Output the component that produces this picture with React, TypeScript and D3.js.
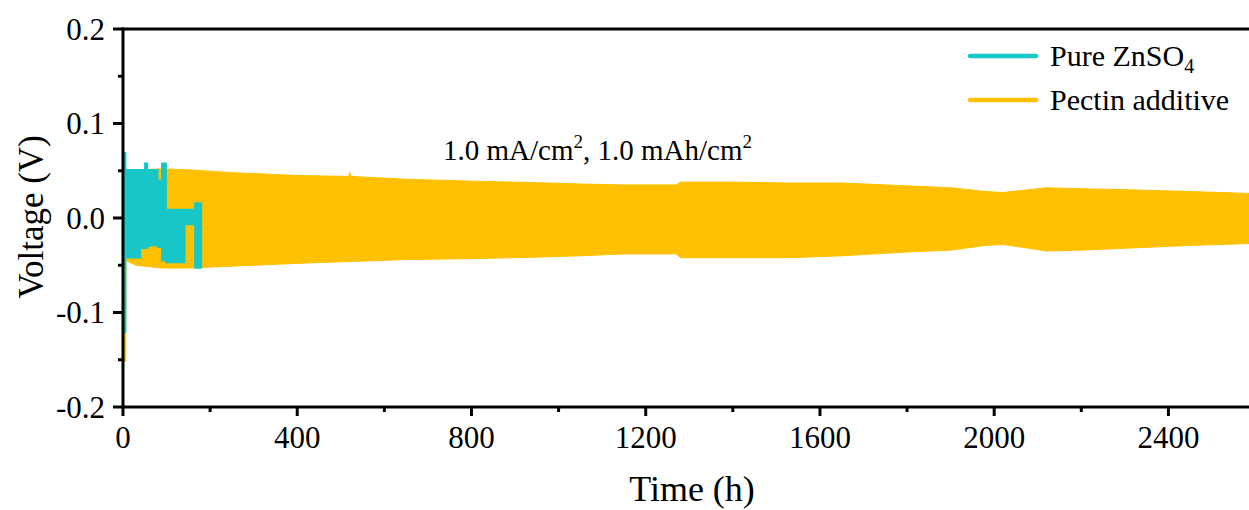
import React from "react";
import * as d3 from "d3";

// ---- data ----
const xTicks = [0, 400, 800, 1200, 1600, 2000, 2400];
const xMinorTicks = [200, 600, 1000, 1400, 1800, 2200];
const yTicks = [-0.2, -0.1, 0.0, 0.1, 0.2];
const yMinorTicks = [-0.15, -0.05, 0.05, 0.15];

// Pectin additive: upper / lower envelope of the voltage oscillation (V) vs time (h)
const pectinTime = [0, 6, 7, 30, 90, 150, 250, 400, 518, 521, 524, 650, 800, 900, 1050, 1150, 1270, 1280, 1400, 1530, 1650, 1800, 1900, 1980, 2020, 2080, 2120, 2200, 2300, 2450, 2585];
const pectinUpper = [0.050, 0.050, 0.050, 0.051, 0.052, 0.051, 0.048, 0.045, 0.044, 0.048, 0.044, 0.041, 0.039, 0.038, 0.036, 0.035, 0.035, 0.038, 0.038, 0.037, 0.037, 0.034, 0.032, 0.028, 0.027, 0.030, 0.032, 0.031, 0.030, 0.028, 0.026];
const pectinLower = [-0.152, -0.152, -0.045, -0.050, -0.053, -0.053, -0.051, -0.048, -0.046, -0.046, -0.046, -0.044, -0.043, -0.042, -0.040, -0.038, -0.038, -0.042, -0.042, -0.042, -0.040, -0.036, -0.034, -0.029, -0.028, -0.032, -0.035, -0.034, -0.032, -0.029, -0.027];

// Pure ZnSO4: upper / lower envelope (step-wise) vs time (h)
const cyanTime = [0, 6, 40, 50, 56, 62, 80, 89, 99, 142, 165, 180];
const cyanUpper = [0.069, 0.051, 0.051, 0.058, 0.051, 0.051, 0.040, 0.058, 0.009, 0.009, 0.016, 0.016];
const cyanLower = [-0.121, -0.042, -0.032, -0.032, -0.030, -0.029, -0.031, -0.045, -0.047, -0.007, -0.053, -0.053];

const seriesNames = ["Pure ZnSO", "Pectin additive"];
const CYAN = "#17C7C7";
const GOLD = "#FFC000";
const FONT = "'Liberation Serif', 'Times New Roman', serif";

export default function App() {
  const W = 1249, H = 510;
  const x = d3.scaleLinear().domain([0, 2585]).range([123, 1249]);
  const y = d3.scaleLinear().domain([-0.2, 0.2]).range([407, 29]);

  const pectinData = pectinTime.map((t, i) => ({ t, hi: pectinUpper[i], lo: pectinLower[i] }));
  const cyanData = cyanTime.map((t, i) => ({ t, hi: cyanUpper[i], lo: cyanLower[i] }));

  const pectinArea = d3.area<any>().x(d => x(d.t)).y0(d => y(d.lo)).y1(d => y(d.hi)).curve(d3.curveLinear);
  const cyanArea = d3.area<any>().x(d => x(d.t)).y0(d => y(d.lo)).y1(d => y(d.hi)).curve(d3.curveStepAfter);

  const x0 = x(0), yB = y(-0.2), yT = y(0.2);
  const fmtY = (v: number) => (Math.abs(v) < 1e-9 ? "0.0" : v.toFixed(1));

  return (
    <svg width={W} height={H} style={{ position: "absolute", left: 0, top: 0, background: "#fff" }} fontFamily={FONT}>
      <rect width={W} height={H} fill="#fff" />
      <path d={pectinArea(pectinData) || ""} fill={GOLD} stroke={GOLD} strokeWidth={1} />
      <path d={cyanArea(cyanData) || ""} fill={CYAN} stroke={CYAN} strokeWidth={1.5} />

      {/* spines */}
      <line x1={x0} x2={W} y1={yT} y2={yT} stroke="#000" strokeWidth={3} />
      <line x1={x0} x2={W} y1={yB} y2={yB} stroke="#000" strokeWidth={3} />
      <line x1={x0} x2={x0} y1={yT - 1.5} y2={yB + 1.5} stroke="#000" strokeWidth={3} />

      {/* y ticks */}
      {yTicks.map(v => (
        <g key={"y" + v}>
          <line x1={x0 - 10} x2={x0} y1={y(v)} y2={y(v)} stroke="#000" strokeWidth={3} />
          <text x={105} y={y(v)} dy="0.35em" textAnchor="end" fontSize={31} fill="#000">{fmtY(v)}</text>
        </g>
      ))}
      {yMinorTicks.map(v => (
        <line key={"ym" + v} x1={x0 - 5} x2={x0} y1={y(v)} y2={y(v)} stroke="#000" strokeWidth={3} />
      ))}

      {/* x ticks */}
      {xTicks.map(v => (
        <g key={"x" + v}>
          <line x1={x(v)} x2={x(v)} y1={yB} y2={yB + 9} stroke="#000" strokeWidth={3} />
          <text x={x(v)} y={448} textAnchor="middle" fontSize={31} fill="#000">{v}</text>
        </g>
      ))}
      {xMinorTicks.map(v => (
        <line key={"xm" + v} x1={x(v)} x2={x(v)} y1={yB} y2={yB + 5} stroke="#000" strokeWidth={3} />
      ))}

      {/* axis titles */}
      <text x={692} y={501} textAnchor="middle" fontSize={36} fill="#000">Time (h)</text>
      <text transform={`translate(43, 217) rotate(-90)`} textAnchor="middle" fontSize={35} fill="#000">Voltage (V)</text>

      {/* annotation */}
      <text x={443} y={160} fontSize={29} fill="#000">
        1.0 mA/cm<tspan fontSize={19} dy={-12}>2</tspan>
        <tspan dy={12}>, 1.0 mAh/cm</tspan>
        <tspan fontSize={19} dy={-12}>2</tspan>
      </text>

      {/* legend */}
      <line x1={970} x2={1036} y1={56} y2={56} stroke={CYAN} strokeWidth={4.5} strokeLinecap="round" />
      <text x={1050} y={66} fontSize={30} fill="#000">
        {seriesNames[0]}<tspan fontSize={20} dy={7}>4</tspan>
      </text>
      <line x1={970} x2={1036} y1={100} y2={100} stroke={GOLD} strokeWidth={4.5} strokeLinecap="round" />
      <text x={1050} y={110} fontSize={30} fill="#000">{seriesNames[1]}</text>
    </svg>
  );
}
